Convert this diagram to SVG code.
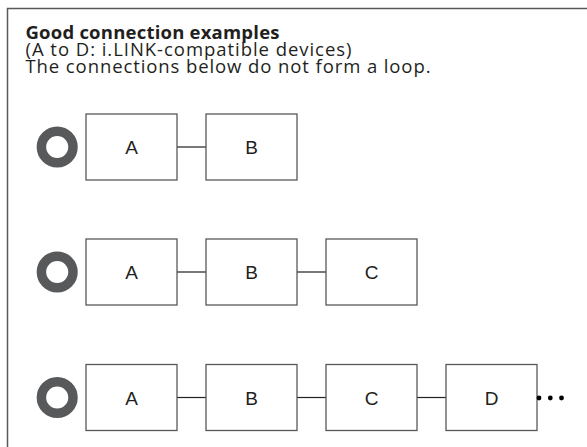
<svg xmlns="http://www.w3.org/2000/svg" width="587" height="447" viewBox="0 0 587 447">
<style>
.frame{fill:none;stroke:#58595b;stroke-width:1.5}
.box{fill:#fff;stroke:#58595b;stroke-width:1.3}
.conn{stroke:#231f20;stroke-width:1.2;fill:none}
.ring{fill:none;stroke:#58595b;stroke-width:9.5}
.lbl{font-family:"Liberation Sans",Arial,sans-serif;font-size:19px;fill:#231f20;text-anchor:middle}
.head{font-family:"Open Sans",Lato,sans-serif;font-size:18.5px;fill:#231f20}
.dot{fill:#000}
</style>
<rect width="587" height="447" fill="#fff"/>
<path class="frame" d="M7.5,447 V8.5 H587"/>
<g id="heading">
<text class="head" x="25.5" y="38.5" font-weight="bold" textLength="254" lengthAdjust="spacing">Good connection examples</text>
<text class="head" x="25.5" y="56" textLength="326" lengthAdjust="spacing">(A to D: i.LINK-compatible devices)</text>
<text class="head" x="25.5" y="73" textLength="405" lengthAdjust="spacing">The connections below do not form a loop.</text>
</g>
<g id="connectors">
<line class="conn" x1="177" y1="147" x2="206" y2="147"/>
<line class="conn" x1="177" y1="272" x2="206" y2="272"/>
<line class="conn" x1="297" y1="272" x2="326" y2="272"/>
<line class="conn" x1="177" y1="397.5" x2="206" y2="397.5"/>
<line class="conn" x1="297" y1="397.5" x2="326" y2="397.5"/>
<line class="conn" x1="417" y1="397.5" x2="446" y2="397.5"/>
</g>
<g id="mark1"><circle class="ring" cx="57.2" cy="147" r="15.8"/></g>
<g id="mark2"><circle class="ring" cx="57.2" cy="272" r="15.8"/></g>
<g id="mark3"><circle class="ring" cx="57.2" cy="397.5" r="15.8"/></g>
<g id="r1A"><rect class="box" x="86" y="114" width="91" height="66"/><text class="lbl" x="131.5" y="154">A</text></g>
<g id="r1B"><rect class="box" x="206" y="114" width="91" height="66"/><text class="lbl" x="251.5" y="154">B</text></g>
<g id="r2A"><rect class="box" x="86" y="239" width="91" height="66"/><text class="lbl" x="131.5" y="279">A</text></g>
<g id="r2B"><rect class="box" x="206" y="239" width="91" height="66"/><text class="lbl" x="251.5" y="279">B</text></g>
<g id="r2C"><rect class="box" x="326" y="239" width="91" height="66"/><text class="lbl" x="371.5" y="279">C</text></g>
<g id="r3A"><rect class="box" x="86" y="364.5" width="91" height="66"/><text class="lbl" x="131.5" y="404.5">A</text></g>
<g id="r3B"><rect class="box" x="206" y="364.5" width="91" height="66"/><text class="lbl" x="251.5" y="404.5">B</text></g>
<g id="r3C"><rect class="box" x="326" y="364.5" width="91" height="66"/><text class="lbl" x="371.5" y="404.5">C</text></g>
<g id="r3D"><rect class="box" x="446" y="364.5" width="91" height="66"/><text class="lbl" x="491.5" y="404.5">D</text></g>
<g id="ellipsis">
<circle class="dot" cx="539" cy="398" r="2.4"/>
<circle class="dot" cx="550.3" cy="398" r="2.4"/>
<circle class="dot" cx="561.5" cy="398" r="2.4"/>
</g>
</svg>
